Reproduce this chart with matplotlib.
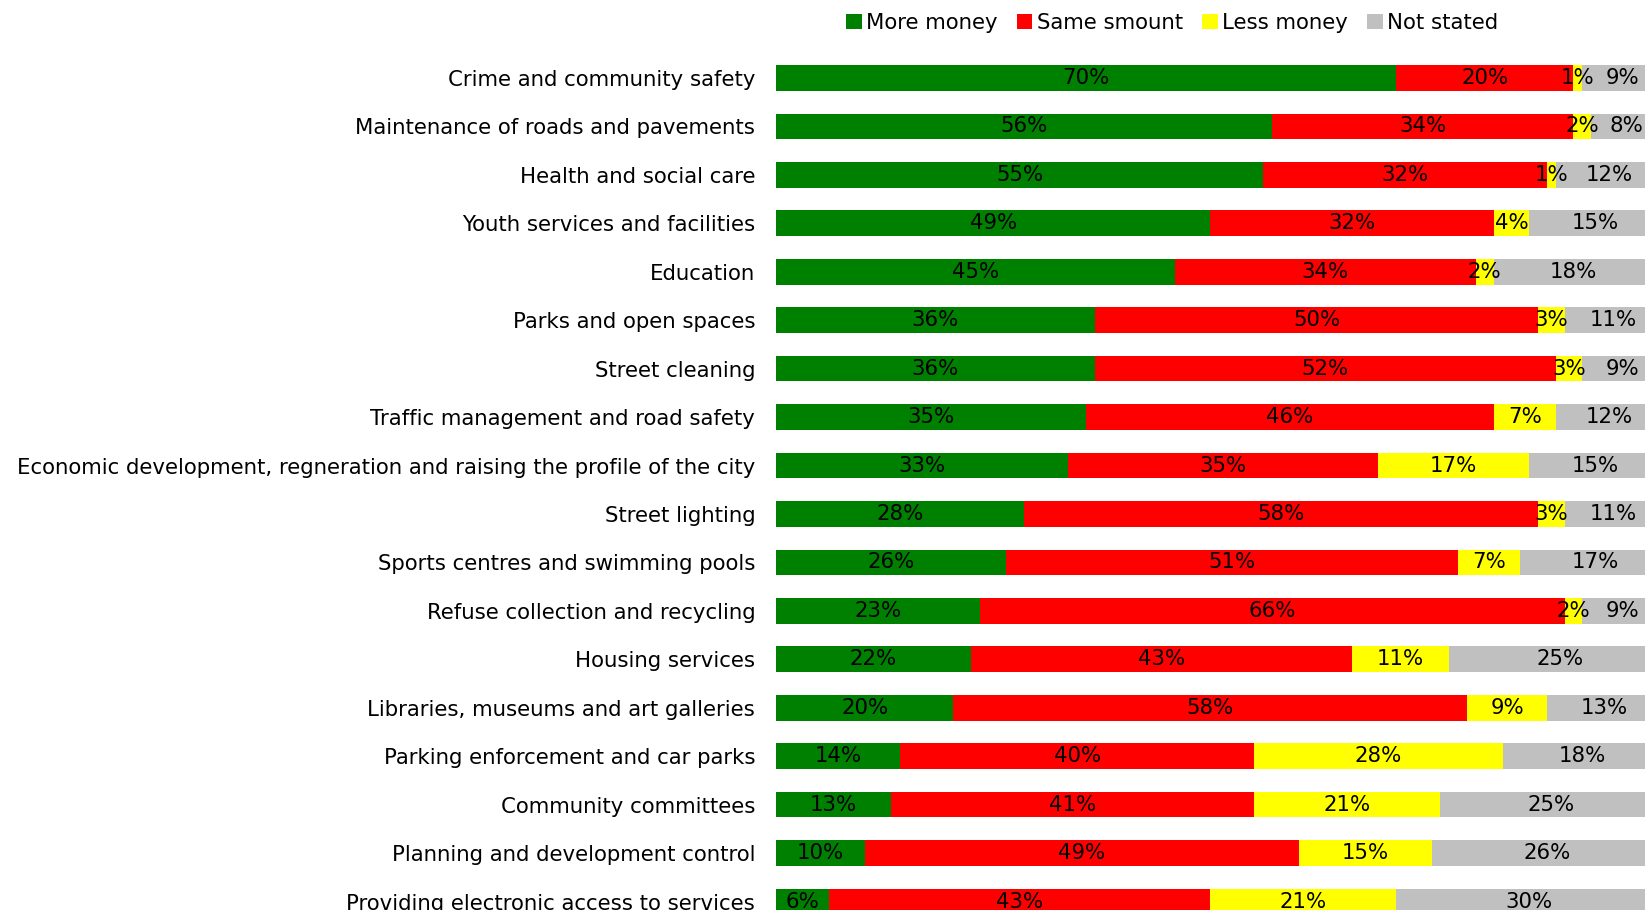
import matplotlib as mpl
import matplotlib.pyplot as plt
import numpy as np

categories = [
    "Crime and community safety",
    "Maintenance of roads and pavements",
    "Health and social care",
    "Youth services and facilities",
    "Education",
    "Parks and open spaces",
    "Street cleaning",
    "Traffic management and road safety",
    "Economic development, regneration and raising the profile of the city",
    "Street lighting",
    "Sports centres and swimming pools",
    "Refuse collection and recycling",
    "Housing services",
    "Libraries, museums and art galleries",
    "Parking enforcement and car parks",
    "Community committees",
    "Planning and development control",
    "Providing electronic access to services",
]
more_money = [70, 56, 55, 49, 45, 36, 36, 35, 33, 28, 26, 23, 22, 20, 14, 13, 10, 6]
same_amount = [20, 34, 32, 32, 34, 50, 52, 46, 35, 58, 51, 66, 43, 58, 40, 41, 49, 43]
less_money = [1, 2, 1, 4, 2, 3, 3, 7, 17, 3, 7, 2, 11, 9, 28, 21, 15, 21]
not_stated = [9, 8, 12, 15, 18, 11, 9, 12, 15, 11, 17, 9, 25, 13, 18, 25, 26, 30]
series_names = ["More money", "Same smount", "Less money", "Not stated"]

COLORS = ["#008000", "#FF0000", "#FFFF00", "#C0C0C0"]

mpl.rcParams.update({
    "font.family": ["DejaVu Sans"],
    "font.size": 15.3,
})

W, H = 1645, 910
fig = plt.figure(figsize=(W / 100, H / 100), dpi=100)

# axes placed in pixels; it runs past the right and bottom edges like the source
x0, x100 = 776, 1662
y_first, y_last = 78.0, 901.5
step = (y_last - y_first) / (len(categories) - 1)
top = y_first - step / 2
bottom = y_last + step / 2
ax = fig.add_axes([x0 / W, 1 - bottom / H, (x100 - x0) / W, (bottom - top) / H])

y = np.arange(len(categories))
left = np.zeros(len(categories))
for name, vals, color in zip(series_names, [more_money, same_amount, less_money, not_stated], COLORS):
    vals = np.array(vals, dtype=float)
    ax.barh(y, vals, left=left, height=0.53, color=color, label=name, linewidth=0)
    for yi, (l, v) in enumerate(zip(left, vals)):
        ax.text(l + v / 2, yi, f"{int(v)}%", ha="center", va="center", color="black")
    left += vals

ax.set_xlim(0, 100)
ax.set_ylim(len(categories) - 0.5, -0.5)
ax.set_yticks(y, categories)
ax.tick_params(axis="y", length=0, pad=15)
ax.set_xticks([])
for s in ax.spines.values():
    s.set_visible(False)

fig.legend(
    loc="center",
    bbox_to_anchor=(1172 / W, 1 - 23 / H),
    ncol=4,
    frameon=False,
    handlelength=0.75,
    handleheight=0.75,
    handletextpad=0.2,
    columnspacing=0.9,
)

fig.savefig("out.png", dpi=100)
